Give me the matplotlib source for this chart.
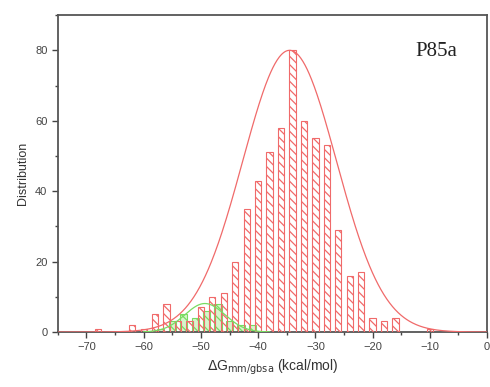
import matplotlib
matplotlib.use("Agg")
import matplotlib.pyplot as plt
import numpy as np

plt.rcParams['font.family'] = ['Liberation Sans', 'DejaVu Sans']
plt.rcParams['hatch.linewidth'] = 0.9

# red histogram (all poses), bin centres and counts
red_x = [-68, -62, -60, -58, -56, -54, -52, -50, -48, -46, -44, -42, -40, -38,
         -36, -34, -32, -30, -28, -26, -24, -22, -20, -18, -16, -10]
red_y = [1, 2, 1, 5, 8, 3, 3, 7, 10, 11, 20, 35, 43, 51,
         58, 80, 60, 55, 53, 29, 16, 17, 4, 3, 4, 1]

# green histogram
green_x = [-57, -55, -53, -51, -49, -47, -45, -43, -41]
green_y = [1, 3, 5, 4, 6, 8, 3, 2, 2]

# gaussian fits (amplitude, centre, sigma)
red_fit = (80, -34.5, 8.2)
green_fit = (8.1, -49.3, 3.5)

red_c = '#f06a6a'
green_c = '#78dc62'

fig = plt.figure(figsize=(4.9, 3.87), dpi=100)
ax = fig.add_axes([0.118, 0.142, 0.876, 0.819])

ax.bar(green_x, green_y, width=1.25, facecolor='#d6f5cc', edgecolor=green_c,
       hatch='\\\\\\', linewidth=0.8, zorder=2)
ax.bar(red_x, red_y, width=1.1, facecolor='none', edgecolor=red_c,
       hatch='\\\\\\\\', linewidth=0.8, zorder=3)

xs = np.linspace(-75, 0, 600)
a, m, s = red_fit
ax.plot(xs, a * np.exp(-0.5 * ((xs - m) / s) ** 2), color=red_c, lw=0.9, zorder=4)
a, m, s = green_fit
xg = np.linspace(-60, -38, 300)
ax.plot(xg, a * np.exp(-0.5 * ((xg - m) / s) ** 2), color=green_c, lw=0.9, zorder=4)

ax.set_xlim(-75, 0)
ax.set_ylim(0, 90)
ax.set_xticks(np.arange(-70, 1, 10))
ax.set_xticks(np.arange(-75, 1, 5), minor=True)
ax.set_yticks(np.arange(0, 81, 20))
ax.set_yticks(np.arange(0, 91, 10), minor=True)
ax.tick_params(which='both', direction='out', colors='#444444', labelsize=8,
               width=1)
ax.tick_params(which='major', length=4)
ax.tick_params(which='minor', length=2.5)
for sp in ax.spines.values():
    sp.set_color('#555555')
    sp.set_linewidth(1.3)

ax.set_ylabel('Distribution', fontsize=9, color='#333333')
ax.set_xlabel(r'$\Delta$G$_{\rm mm/gbsa}$ (kcal/mol)', fontsize=10, color='#333333')

ax.text(0.93, 0.885, 'P85a', transform=ax.transAxes, ha='right', va='center',
        fontsize=15, family='Liberation Serif', color='#222222')

fig.savefig('out.png', dpi=100)
